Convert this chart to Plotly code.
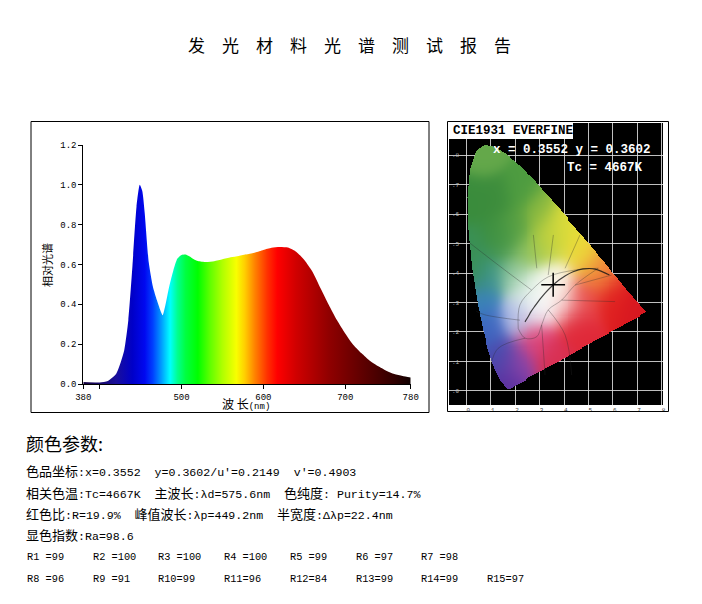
import numpy as np
import plotly.graph_objects as go

# page body has an 8px margin, so the figure sits at (8, 8)
OFF = 8
W, H = 702 - OFF, 604 - OFF

# 光谱数据 (nm, 相对值)
wavelength = [380, 400, 410, 420, 425, 430, 435, 440, 445, 449, 452, 455, 460, 465,
              470, 475, 477, 480, 485, 490, 495, 500, 505, 510, 515, 520, 530, 540,
              550, 560, 570, 580, 590, 600, 610, 620, 630, 640, 650, 660, 670, 680,
              690, 700, 710, 720, 730, 740, 750, 760, 770, 780]
rel_power = [0.010, 0.008, 0.015, 0.05, 0.10, 0.17, 0.32, 0.59, 0.89, 1.00, 0.97, 0.86,
             0.61, 0.49, 0.42, 0.36, 0.345, 0.39, 0.49, 0.57, 0.63, 0.648, 0.650, 0.640,
             0.626, 0.617, 0.612, 0.616, 0.626, 0.636, 0.643, 0.651, 0.660, 0.673,
             0.684, 0.688, 0.685, 0.664, 0.623, 0.564, 0.480, 0.397, 0.320, 0.254,
             0.196, 0.154, 0.117, 0.090, 0.067, 0.050, 0.040, 0.033]

# 渐变色 (nm -> 颜色)
grad_nm = [380, 420, 440, 455, 465, 475, 486, 495, 505, 520, 535, 550, 567, 577,
           590, 605, 617, 640, 680, 720, 760, 780]
grad_color = ["#14003c", "#1a0f9a", "#0000c8", "#0008f0", "#0040ff", "#0098ff",
              "#00ffff", "#00ff90", "#00ff40", "#00ff00", "#60ff00", "#b0ff00",
              "#f8ff00", "#ffd000", "#ff8000", "#ff3000", "#ff0000", "#d00000",
              "#900000", "#600000", "#300000", "#100000"]

y_ticks = [0.0, 0.2, 0.4, 0.6, 0.8, 1.0, 1.2]
x_ticks = [380, 400, 500, 600, 700, 780]
x_tick_text = ["380", "", "500", "600", "700", "780"]

# CIE1931 光谱轨迹
locus_x = [0.1741, 0.1738, 0.1733, 0.1726, 0.1714, 0.1689, 0.1644, 0.1566, 0.1440,
           0.1355, 0.1241, 0.1096, 0.0913, 0.0687, 0.0454, 0.0235, 0.0082, 0.0039,
           0.0139, 0.0389, 0.0743, 0.1142, 0.1547, 0.1929, 0.2296, 0.2658, 0.3016,
           0.3373, 0.3731, 0.4087, 0.4441, 0.4788, 0.5125, 0.5448, 0.5752, 0.6029,
           0.6270, 0.6482, 0.6658, 0.6915, 0.7079, 0.7190, 0.7260, 0.7300, 0.7334,
           0.7347]
locus_y = [0.0050, 0.0049, 0.0048, 0.0048, 0.0051, 0.0069, 0.0109, 0.0177, 0.0297,
           0.0399, 0.0578, 0.0868, 0.1327, 0.2007, 0.2950, 0.4127, 0.5384, 0.6548,
           0.7502, 0.8120, 0.8338, 0.8262, 0.8059, 0.7816, 0.7543, 0.7243, 0.6923,
           0.6589, 0.6245, 0.5896, 0.5547, 0.5202, 0.4866, 0.4544, 0.4242, 0.3965,
           0.3725, 0.3514, 0.3340, 0.3083, 0.2920, 0.2809, 0.2740, 0.2700, 0.2666,
           0.2653]
# 图上读到的颜色 (x, y, 颜色)
anchor_x = [0.07, 0.03, 0.12, 0.22, 0.20, 0.30, 0.33, 0.42, 0.48, 0.53, 0.04, 0.09,
            0.06, 0.19, 0.25, 0.32, 0.28, 0.38, 0.40, 0.09, 0.14, 0.17, 0.22, 0.21,
            0.28, 0.35, 0.45, 0.48, 0.60, 0.70, 0.56, 0.02, 0.12, 0.40, 0.46, 0.36,
            0.25, 0.15]
anchor_y = [0.80, 0.65, 0.65, 0.68, 0.55, 0.60, 0.50, 0.52, 0.46, 0.42, 0.48, 0.40,
            0.31, 0.40, 0.35, 0.34, 0.28, 0.38, 0.30, 0.21, 0.11, 0.02, 0.09, 0.25,
            0.17, 0.10, 0.22, 0.32, 0.32, 0.28, 0.40, 0.40, 0.52, 0.56, 0.50, 0.53,
            0.47, 0.50]
anchor_color = ["#64a84a", "#3a8c3c", "#3c8c3c", "#4e9c40", "#58a042", "#88b840",
                "#b0cc40", "#dcdc38", "#ecd43a", "#f0a83c", "#3a9056", "#3c9488",
                "#3a82bc", "#8cc49c", "#dcefe2", "#fcfcfa", "#f4f4f8", "#faf6e4",
                "#f6d6d6", "#3e66c0", "#4a48ac", "#5a30a0", "#8c44a8", "#b0bce6",
                "#e04478", "#d83052", "#e02838", "#e84a4a", "#e02020", "#d81820",
                "#f06c3a", "#3a9050", "#3a8c3c", "#e0de38", "#f0dc38", "#c8d440",
                "#94c45c", "#4a9a4c"]
planck_x = [0.5857, 0.5267, 0.4770, 0.4369, 0.4053, 0.3805, 0.3451, 0.3221, 0.3064,
            0.2952, 0.2807, 0.2637, 0.2565, 0.2399]
planck_y = [0.3931, 0.4133, 0.4137, 0.4041, 0.3907, 0.3768, 0.3516, 0.3318, 0.3166,
            0.3048, 0.2884, 0.2683, 0.2577, 0.2342]
# 色区分界线 (None 分段)
zone_x = [0.212, 0.219, 0.267, 0.335, 0.445, 0.540, None,
          0.540, 0.445, 0.390, 0.335, 0.308, 0.288, 0.240, 0.212, None,
          0.007, 0.130, 0.267, None, 0.274, 0.288, None, 0.356, 0.335, None,
          0.465, 0.404, None, 0.445, 0.595, None, 0.390, 0.609, None,
          0.335, 0.404, 0.431, None, 0.308, 0.322, None, 0.219, 0.076, 0.040, None,
          0.240, 0.130, 0.100]
zone_y = [0.212, 0.292, 0.342, 0.387, 0.410, 0.416, None,
          0.416, 0.359, 0.308, 0.275, 0.224, 0.184, 0.179, 0.212, None,
          0.506, 0.427, 0.342, None, 0.529, 0.416, None, 0.529, 0.393, None,
          0.529, 0.416, None, 0.359, 0.393, None, 0.308, 0.303, None,
          0.275, 0.190, 0.054, None, 0.224, 0.054, None, 0.240, 0.258, 0.270, None,
          0.179, 0.145, 0.090]
cie_ticks = [0.0, 0.1, 0.2, 0.3, 0.4, 0.5, 0.6, 0.7, 0.8]
cie_tick_text = [".0", ".1", ".2", ".3", ".4", ".5", ".6", ".7", ".8"]

# 颜色参数
cie_x, cie_y = 0.3552, 0.3602
u_prime, v_prime = 0.2149, 0.4903
cct = 4667
dominant_nm = 575.6
purity = 14.7
red_ratio = 19.9
peak_nm = 449.2
half_width = 22.4
ra = 98.6
r_names = ["R1", "R2", "R3", "R4", "R5", "R6", "R7", "R8", "R9", "R10", "R11",
           "R12", "R13", "R14", "R15"]
r_values = [99, 100, 100, 100, 99, 97, 98, 96, 91, 99, 96, 84, 99, 99, 97]


def px(x):
    return (x - OFF) / W


def py(y):
    return 1 - (y - OFF) / H


# 色度图底图: 光谱轨迹内部, 用读到的颜色平滑混合
step_x, step_y = 0.004, 0.0035
gx = np.arange(0.0, 0.745, step_x)
gy = np.arange(-0.006, 0.845, step_y)
X, Y = np.meshgrid(gx, gy)
inside = np.zeros(X.shape, dtype=bool)
n = len(locus_x)
for i in range(n):
    x1, y1 = locus_x[i], locus_y[i]
    x2, y2 = locus_x[(i + 1) % n], locus_y[(i + 1) % n]
    if y1 == y2:
        continue
    cross = (y1 > Y) != (y2 > Y)
    xint = (x2 - x1) * (Y - y1) / (y2 - y1) + x1
    inside ^= cross & (X < xint)

ac = np.array([[int(c[k:k + 2], 16) for k in (1, 3, 5)] for c in anchor_color], float)
dist2 = (X[..., None] - np.array(anchor_x)) ** 2 + (Y[..., None] - np.array(anchor_y)) ** 2
wts = np.exp(-dist2 / (2 * 0.045 ** 2)) + 1e-12
rgb = (wts[..., None] * ac).sum(axis=2) / wts.sum(axis=2)[..., None]
rgba = np.zeros(X.shape + (4,))
rgba[..., :3] = np.round(rgb)
rgba[..., 3] = inside.astype(float)

fig = go.Figure()

lo, hi = grad_nm[0], grad_nm[-1]
colorscale = [[(v - lo) / (hi - lo), c] for v, c in zip(grad_nm, grad_color)]

fig.add_trace(go.Scatter(
    x=wavelength, y=rel_power, mode="lines",
    line=dict(width=0, shape="spline", smoothing=0.6, color="rgba(0,0,0,0)"),
    fill="tozeroy",
    fillgradient=dict(type="horizontal", colorscale=colorscale, start=lo, stop=hi),
    hoverinfo="skip", showlegend=False,
))

fig.add_trace(go.Image(
    z=rgba.tolist(), colormodel="rgba",
    x0=gx[0], dx=step_x, y0=gy[0], dy=step_y,
    xaxis="x2", yaxis="y2", hoverinfo="skip",
))

fig.add_trace(go.Scatter(
    x=zone_x, y=zone_y, mode="lines", xaxis="x2", yaxis="y2",
    line=dict(color="rgba(40,40,40,0.4)", width=0.8, shape="spline"),
    hoverinfo="skip", showlegend=False,
))

fig.add_trace(go.Scatter(
    x=planck_x, y=planck_y, mode="lines", xaxis="x2", yaxis="y2",
    line=dict(color="rgba(20,20,20,0.8)", width=1.2, shape="spline"),
    hoverinfo="skip", showlegend=False,
))

fig.add_trace(go.Scatter(
    x=[cie_x], y=[cie_y], mode="markers", xaxis="x2", yaxis="y2",
    marker=dict(symbol="cross-thin", size=17, line=dict(color="black", width=1.5)),
    hoverinfo="skip", showlegend=False,
))

axis_common = dict(showline=True, linecolor="black", linewidth=1, mirror=False,
                   ticks="outside", ticklen=4, tickcolor="black", showgrid=False,
                   zeroline=False, automargin=False,
                   tickfont=dict(family="Liberation Mono", size=9, color="black"))

fig.update_layout(
    width=W, height=H,
    template="none",
    margin=dict(l=0, r=0, t=0, b=0, pad=0),
    paper_bgcolor="white",
    plot_bgcolor="rgba(0,0,0,0)",
    showlegend=False,
    xaxis=dict(domain=[px(83.3), px(410.7)], range=[380, 780], tickvals=x_ticks,
               ticktext=x_tick_text, anchor="y", **axis_common),
    yaxis=dict(domain=[py(384), py(145)], range=[0, 1.2], tickvals=y_ticks,
               ticktext=[f"{v:.1f}" for v in y_ticks], anchor="x", **axis_common),
    xaxis2=dict(domain=[px(449), px(663)], range=[-0.0717, 0.8053], anchor="y2",
                tickvals=cie_ticks, ticktext=cie_tick_text, showgrid=True,
                gridcolor="rgba(225,225,225,0.85)", gridwidth=1, zeroline=False,
                showline=False, ticks="", automargin=False,
                tickfont=dict(family="Liberation Mono", size=6, color="#444")),
    yaxis2=dict(domain=[py(405), py(123)], range=[-0.0475, 0.9085], anchor="x2",
                scaleanchor=False, tickvals=cie_ticks, ticktext=cie_tick_text,
                showgrid=True, gridcolor="rgba(225,225,225,0.85)", gridwidth=1,
                zeroline=False, showline=False, ticks="", automargin=False,
                ticklabelposition="inside",
                tickfont=dict(family="Liberation Mono", size=6, color="#bbbbbb")),
)

fig.add_shape(type="rect", xref="paper", yref="paper", layer="below",
              x0=px(449), x1=px(663), y0=py(405), y1=py(123),
              fillcolor="black", line=dict(width=0))
fig.add_shape(type="rect", xref="paper", yref="paper",
              x0=px(447.5), x1=px(668.5), y0=py(411.5), y1=py(121.5),
              line=dict(color="black", width=1))
fig.add_shape(type="rect", xref="paper", yref="paper",
              x0=px(31), x1=px(429), y0=py(412.5), y1=py(121.5),
              line=dict(color="black", width=1))
fig.add_shape(type="rect", xref="paper", yref="paper",
              x0=px(449), x1=px(573), y0=py(139), y1=py(123),
              fillcolor="white", line=dict(width=0))

CJK = "Noto Sans CJK SC"
MONO = "Liberation Mono"


def note(x, y, text, size, family=MONO, color="black", anchor="left", angle=0):
    fig.add_annotation(x=px(x), y=py(y), xref="paper", yref="paper", text=text,
                       showarrow=False, xanchor=anchor, yanchor="middle",
                       textangle=angle,
                       font=dict(family=family, size=size, color=color))


def cn(s, size=13):
    return f'<span style="font-family:{CJK};font-size:{size}px">{s}</span>'


title = "\u3000".join("发光材料光谱测试报告")
note(349, 44, title, 17, family=CJK, anchor="center")

note(246, 403, cn("波 长", 12) + "(nm)", 9, anchor="center")
note(47, 265, "相对光谱", 11, family=CJK, anchor="center", angle=-90)

note(451, 131, "<b>CIE1931 EVERFINE</b>", 12.5)
note(491, 150, f"<b>x = {cie_x:.4f} y = {cie_y:.4f}</b>", 12.5, color="white")
note(565, 168, f"<b>Tc = {cct}K</b>", 12.5, color="white")

sp = "\u00a0"
note(24, 443, "颜色参数:", 18, family=CJK)
note(24, 470, cn("色品坐标") + f":x={cie_x:.4f}{sp*2}y={cie_y:.4f}/u'={u_prime:.4f}"
     f"{sp*2}v'={v_prime:.4f}", 11.6)
note(24, 492, cn("相关色温") + f":Tc={cct}K{sp*2}" + cn("主波长")
     + f":λd={dominant_nm}nm{sp*2}" + cn("色纯度") + f":{sp}Purity={purity}%", 11.6)
note(24, 513, cn("红色比") + f":R={red_ratio}%{sp*2}" + cn("峰值波长")
     + f":λp={peak_nm}nm{sp*2}" + cn("半宽度") + f":Δλp={half_width}nm", 11.6)
note(24, 534, cn("显色指数") + f":Ra={ra}", 11.6)

for i, (name, val) in enumerate(zip(r_names, r_values)):
    row = 0 if i < 7 else 1
    col = i if i < 7 else i - 7
    note(25 + 65.7 * col, 557 + 21.5 * row,
         f"{name:<3}={val}".replace(" ", sp), 10.3)

fig.write_html("out.html")
